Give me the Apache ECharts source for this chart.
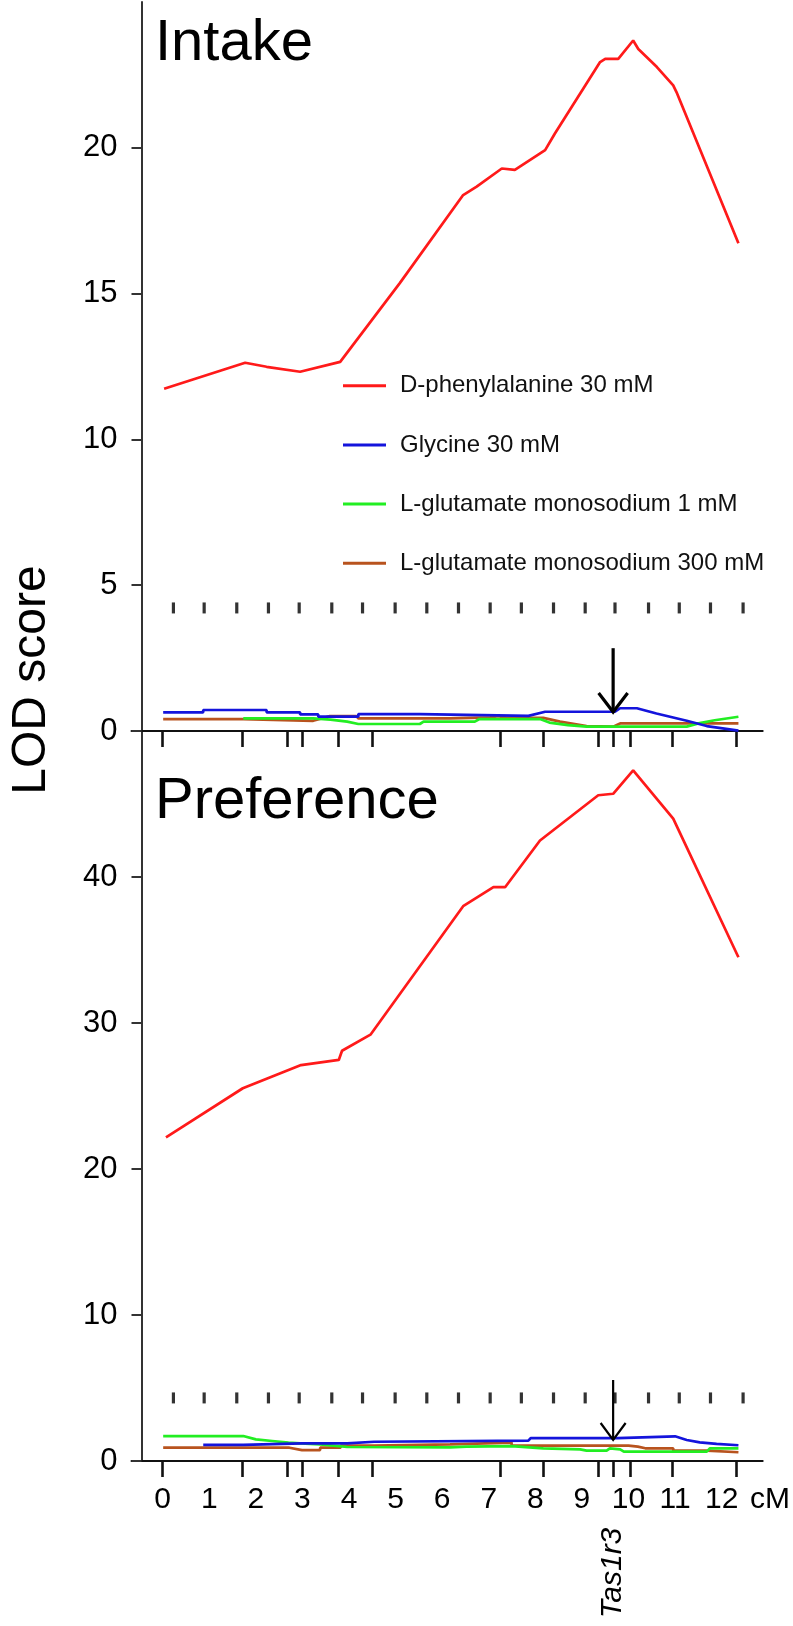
<!DOCTYPE html>
<html><head><meta charset="utf-8">
<script src="https://cdn.jsdelivr.net/npm/echarts@6/dist/echarts.min.js"></script>
<style>html,body{margin:0;padding:0;background:#fff}#c{width:793px;height:1626px}</style>
</head><body><div id="c"></div>
<script>
// ---------- data ----------
const seriesNames = ['D-phenylalanine 30 mM','Glycine 30 mM','L-glutamate monosodium 1 mM','L-glutamate monosodium 300 mM'];
const seriesColors = ['#ff1a1a','#1414dc','#22ee22','#b8531e'];
const xTickLabels = [0,1,2,3,4,5,6,7,8,9,10,11,12];
const markerCM = [0,1.7,2.68,2.99,3.77,4.49,7.24,8.16,9.35,9.67,10.04,10.93,12.32];
const dashCM = [0.23,0.89,1.59,2.27,2.93,3.63,4.29,4.99,5.67,6.35,7.03,7.70,8.39,9.07,9.71,10.43,11.09,11.76,12.46];
const dashLOD = [4.22, 4.32];
const tas1r3CM = 9.67;
const arrowIntake = [tas1r3CM, 2.84, 0.65];
const arrowPref = [tas1r3CM, 5.55, 1.44];
const intakeTicks = [0,5,10,15,20];
const prefTicks = [0,10,20,30,40];

const intakePhe = [[0.03,11.74],[1.77,12.63],[2.23,12.49],[2.95,12.32],[3.81,12.66],[5.09,15.36],[6.45,18.38],[6.74,18.67],[7.28,19.29],[7.56,19.24],[8.21,19.92],[8.42,20.49],[9.39,22.94],[9.50,23.05],[9.78,23.05],[10.10,23.68],[10.21,23.39],[10.61,22.77],[10.96,22.14],[11.03,21.91],[12.36,16.73]];
const intakeGly = [[0.01,0.64],[0.87,0.64],[0.87,0.72],[2.23,0.72],[2.23,0.64],[2.95,0.64],[2.95,0.57],[3.34,0.57],[3.34,0.49],[4.2,0.49],[4.2,0.58],[5.52,0.58],[5.52,0.52],[7.85,0.52],[8.21,0.66],[9.71,0.66],[9.82,0.78],[10.18,0.78],[10.6,0.6],[11.25,0.35],[11.68,0.17],[12.36,0.01]];
const intakeMSG1 = [[1.73,0.43],[3.23,0.43],[3.6,0.39],[3.96,0.32],[4.2,0.24],[5.52,0.24],[5.6,0.32],[6.7,0.32],[6.8,0.41],[8.1,0.41],[8.3,0.29],[8.7,0.2],[9.1,0.15],[11.25,0.15],[11.5,0.26],[11.85,0.37],[12.36,0.49]];
const intakeMSG300 = [[0.01,0.41],[1.73,0.41],[1.73,0.35],[3.23,0.35],[3.59,0.51],[4.16,0.51],[4.2,0.43],[6.17,0.43],[6.17,0.47],[7.03,0.47],[7.2,0.51],[7.4,0.45],[8.17,0.45],[8.53,0.32],[9.1,0.17],[9.67,0.15],[9.82,0.26],[12.36,0.26]];

const prefPhe = [[0.07,22.17],[1.72,25.53],[2.97,27.12],[3.78,27.47],[3.85,28.1],[4.46,29.2],[6.45,38.0],[7.1,39.3],[7.35,39.3],[8.1,42.5],[9.35,45.6],[9.67,45.7],[10.1,47.3],[10.96,44.0],[12.36,34.5]];
const prefGly = [[0.87,1.10],[1.73,1.10],[1.73,1.21],[2.99,1.21],[3.38,1.21],[3.96,1.21],[3.96,1.32],[4.54,1.32],[4.54,1.39],[7.85,1.39],[7.9,1.57],[9.77,1.57],[9.77,1.69],[11.0,1.69],[11.25,1.44],[11.53,1.28],[11.89,1.17],[12.36,1.08]];
const prefMSG1 = [[0.01,1.71],[1.73,1.71],[1.76,1.62],[2.0,1.48],[2.35,1.37],[2.7,1.26],[2.95,1.21],[3.38,1.14],[3.96,0.96],[6.17,0.93],[6.52,0.98],[7.49,1.02],[8.17,0.87],[8.96,0.8],[9.1,0.71],[9.53,0.71],[9.6,0.87],[9.82,0.8],[9.9,0.64],[11.68,0.64],[11.75,0.87],[12.36,0.87]];
const prefMSG300 = [[0.01,0.91],[2.72,0.91],[2.99,0.75],[3.38,0.75],[3.38,0.91],[3.82,0.91],[3.82,1.05],[4.54,1.05],[4.54,1.14],[6.17,1.14],[6.17,1.26],[7.49,1.26],[7.49,1.05],[10.0,1.05],[10.2,0.98],[10.36,0.87],[10.96,0.87],[10.96,0.71],[11.68,0.71],[11.68,0.6],[12.36,0.6]];

const intakeData = [intakePhe, intakeGly, intakeMSG1, intakeMSG300];
const prefData = [prefPhe, prefGly, prefMSG1, prefMSG300];

// ---------- chart ----------
const FONT = '"Liberation Sans", Arial, sans-serif';
const chart = echarts.init(document.getElementById('c'));
const gridLeft = 131.5, gridW = 631.2;
const xMin = -0.67, xMax = 12.881;

function lineSeries(data, grid, z) {
  return data.map((d, i) => ({
    type: 'line', name: seriesNames[i], xAxisIndex: grid, yAxisIndex: grid,
    data: d, showSymbol: false, symbol: 'none', animation: false, z: z + (i === 0 ? 0 : 4 - i),
    lineStyle: { color: seriesColors[i], width: 2.7 }, itemStyle: { color: seriesColors[i] }
  }));
}
function dashSeries(grid) {
  return { type: 'scatter', xAxisIndex: grid, yAxisIndex: grid, symbol: 'rect', symbolSize: [3.2, 11],
    itemStyle: { color: '#000' }, data: dashCM.map(x => [x, dashLOD[grid]]), silent: true, animation: false };
}
function arrowSeries(grid, item, lw, hw, hh) {
  return { type: 'custom', xAxisIndex: grid, yAxisIndex: grid, silent: true, z: 20, animation: false,
    data: [item],
    renderItem(params, api) {
      const top = api.coord([api.value(0), api.value(1)]);
      const tip = api.coord([api.value(0), api.value(2)]);
      return { type: 'group', children: [
        { type: 'line', shape: { x1: top[0], y1: top[1], x2: tip[0], y2: tip[1] }, style: { stroke: '#000', lineWidth: lw } },
        { type: 'polyline', shape: { points: [[tip[0]-hw, tip[1]-hh], [tip[0], tip[1]], [tip[0]+hw, tip[1]-hh]] }, style: { stroke: '#000', lineWidth: lw, fill: null } }
      ]};
    } };
}
function xAxis(grid, showLabels) {
  return { type: 'value', gridIndex: grid, min: xMin, max: xMax,
    axisLine: { show: true, onZero: false, lineStyle: { color: '#111', width: 2 } },
    axisTick: { show: true, inside: false, length: 16, customValues: markerCM, lineStyle: { color: '#111', width: 2.6 } },
    axisLabel: { show: showLabels, customValues: xTickLabels, fontSize: 30, fontFamily: FONT, color: '#000', margin: 24 },
    splitLine: { show: false },
    name: showLabels ? 'cM' : '', nameLocation: 'end', nameGap: -12.7,
    nameTextStyle: { fontSize: 30, fontFamily: FONT, color: '#000', verticalAlign: 'top', align: 'left', padding: [24, 0, 0, 0] }
  };
}
function yAxis(grid, max, ticks) {
  return { type: 'value', gridIndex: grid, min: 0, max: max, interval: ticks[1] - ticks[0], offset: -10,
    axisLine: { show: true, onZero: false, lineStyle: { color: '#333', width: 2 } },
    axisTick: { show: true, length: 10, customValues: ticks, lineStyle: { color: '#333', width: 2 } },
    axisLabel: { customValues: ticks, fontSize: 31, fontFamily: FONT, color: '#000', margin: 24 },
    splitLine: { show: false } };
}

const option = {
  backgroundColor: '#fff',
  animation: false,
  grid: [
    { left: gridLeft, width: gridW, top: 2, height: 729 },
    { left: gridLeft, width: gridW, top: 731, height: 730 }
  ],
  xAxis: [xAxis(0, false), xAxis(1, true)],
  yAxis: [yAxis(0, 25, intakeTicks), yAxis(1, 50, prefTicks)],
  legend: { data: seriesNames, orient: 'vertical', left: 343, top: 373.7, padding: 0, itemWidth: 43, itemHeight: 3,
    itemGap: 35.2, icon: 'rect', selectedMode: false,
    textStyle: { fontSize: 24, fontFamily: FONT, color: '#111', padding: [0, 0, 0, 9] } },
  series: [
    ...lineSeries(intakeData, 0, 5),
    ...lineSeries(prefData, 1, 5),
    dashSeries(0), dashSeries(1),
    arrowSeries(0, arrowIntake, 3.2, 14.5, 19),
    arrowSeries(1, arrowPref, 2.2, 12.5, 17)
  ]
};
chart.setOption(option);

const tasX = chart.convertToPixel({ gridIndex: 1 }, [tas1r3CM, 0])[0];
chart.setOption({
  graphic: [
    { type: 'text', x: 155, y: 44, style: { text: 'Intake', fontSize: 58, fontFamily: FONT, fill: '#000', textAlign: 'left', textVerticalAlign: 'middle' } },
    { type: 'text', x: 155, y: 802, style: { text: 'Preference', fontSize: 58, fontFamily: FONT, fill: '#000', textAlign: 'left', textVerticalAlign: 'middle' } },
    { type: 'text', x: 32, y: 680, rotation: Math.PI / 2, style: { text: 'LOD score', fontSize: 48, fontFamily: FONT, fill: '#000', textAlign: 'center', textVerticalAlign: 'middle' } },
    { type: 'text', x: tasX, y: 1573, rotation: Math.PI / 2, style: { text: 'Tas1r3', fontSize: 30, fontStyle: 'italic', fontFamily: FONT, fill: '#000', textAlign: 'center', textVerticalAlign: 'middle' } }
  ]
});
</script></body></html>
